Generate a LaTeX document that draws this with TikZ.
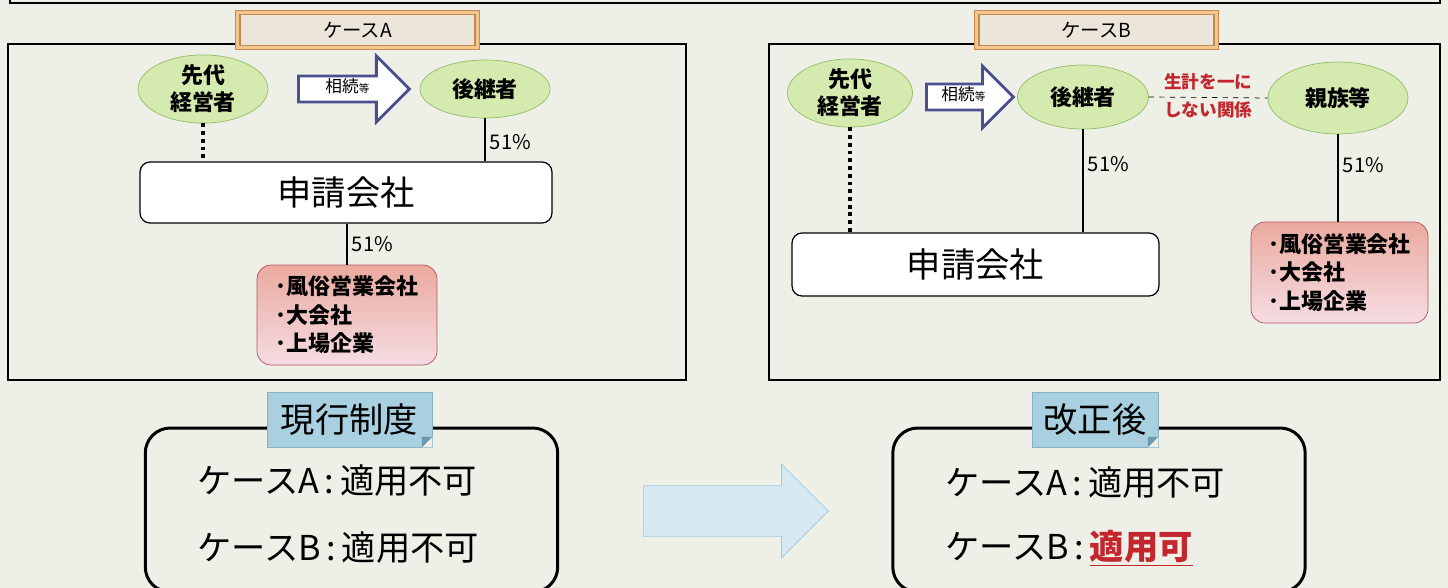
\documentclass[tikz,border=0pt]{standalone}
\usepackage{fontspec}
\setmainfont{Noto Sans CJK JP}
\usetikzlibrary{shapes.geometric,shapes.arrows,positioning,calc}
\definecolor{paper}{HTML}{EEF0E8}
\definecolor{ellfill}{HTML}{D5EAAE}
\definecolor{elldraw}{HTML}{92BE66}
\definecolor{inhdraw}{HTML}{4C4F8E}
\definecolor{tagfill}{HTML}{EBE5DA}
\definecolor{tagdraw}{HTML}{C8894C}
\definecolor{tagline}{HTML}{F2C690}
\definecolor{pinktop}{HTML}{EBAA9E}
\definecolor{pinkmid}{HTML}{E3929F}
\definecolor{pinkbot}{HTML}{F5DCE3}
\definecolor{pinkdraw}{HTML}{B4505A}
\definecolor{redtext}{HTML}{C4262E}
\definecolor{tabfill}{HTML}{A8D0E1}
\definecolor{tabdraw}{HTML}{82B3CA}
\definecolor{bigfill}{HTML}{D6E9F1}
\definecolor{bigdraw}{HTML}{A2CCE0}

\begin{document}
\begin{tikzpicture}[x=0.02cm, y=-0.02cm, font=\fontsize{12}{15}\selectfont,
    frame/.style={draw, line width=0.8pt},
    casetag/.style={draw=tagdraw, double=tagline, double distance=1.6pt, line width=0.9pt, fill=tagfill, minimum width=4.8cm, minimum height=0.7cm, font=\fontsize{11}{12}\selectfont},
    person/.style={ellipse, draw=elldraw, fill=ellfill, inner sep=0pt, minimum width=2.6cm, minimum height=1.2cm, align=center, font=\bfseries\fontsize{12.5}{15.5}\selectfont},
    inherit/.style={single arrow, draw=inhdraw, fill=white, line width=1.6pt, anchor=tail, inner xsep=2pt, inner ysep=0.1cm, text height=6pt, text depth=1.5pt, single arrow head extend=0.4cm, minimum width=0cm, font=\fontsize{9.5}{10}\selectfont},
    firm/.style={draw, fill=white, rounded corners=0.2cm, line width=0.7pt, font=\fontsize{19.5}{22}\selectfont},
    group/.style={draw=pinkdraw, rounded corners=0.28cm, top color=pinktop, middle color=pinkmid!70!pinkbot, bottom color=pinkbot, align=left, minimum width=3.6cm, minimum height=2cm, font=\bfseries\fontsize{12.5}{16.2}\selectfont},
    share/.style={line width=1.5pt},
    former/.style={line width=2pt, dash pattern=on 2.2pt off 2.2pt},
    pct/.style={right, inner sep=2pt, font=\fontsize{11.5}{13}\selectfont},
    redlbl/.style={text=redtext, inner sep=1pt, font=\bfseries\fontsize{10}{12}\selectfont},
    resbox/.style={draw, line width=1.7pt, rounded corners=0.5cm, minimum width=8.25cm, minimum height=3.28cm},
    tab/.style={draw=tabdraw, fill=tabfill, minimum height=1.1cm, font=\fontsize{19.5}{22}\selectfont},
    restext/.style={anchor=west, inner sep=0pt, font=\fontsize{19.5}{22}\selectfont}]
    \fill[paper] (0,0) rectangle (1448,588);
    \useasboundingbox (0,0) rectangle (1448,588);
    \clip (0,0) rectangle (1448,588);
    \draw[line width=0.8pt] (10,-5) -- (10,3) -- (1440,3) -- (1440,-5);
    \draw[frame] (8,44) rectangle (686,380);
    \draw[frame] (769,44) rectangle (1440,380);
    \node[casetag] (tagA) at (357.5,30) {ケースA};
    \node[casetag] (tagB) at (1096.5,30) {ケースB};

    \node[person] (prevA) at (203,89) {先代\\経営者};
    \node[inherit, minimum height=2.22cm] (inhA) at (297,89) {相続{\fontsize{6}{7}\selectfont 等}};
    \node[person, minimum height=1.16cm] (succA) at (485,89) {後継者};
    \node[firm, minimum width=8.24cm, minimum height=1.22cm] (appA) at (346,192.5) {申請会社};
    \node[group] (bigA) at (347,315) {･風俗営業会社\\･大会社\\･上場企業};
    \draw[former] (prevA.south) -- (prevA.south |- appA.north);
    \draw[share] (succA.south) -- node[pct, pos=0.55] {51\%} (succA.south |- appA.north);
    \draw[share] (bigA.north |- appA.south) -- node[pct] {51\%} (bigA.north);

    \node[person, minimum width=2.5cm, minimum height=1.16cm] (prevB) at (850,93) {先代\\経営者};
    \node[inherit, minimum height=1.74cm, single arrow head extend=0.36cm] (inhB) at (925,97) {相続{\fontsize{6}{7}\selectfont 等}};
    \node[person, minimum width=2.62cm, minimum height=1.28cm] (succB) at (1083,97) {後継者};
    \node[person, minimum width=2.8cm, minimum height=1.44cm] (relB) at (1338,98) {親族等};
    \node[firm, minimum width=7.34cm, minimum height=1.26cm] (appB) at (975.5,264.5) {申請会社};
    \node[group, minimum width=3.54cm, minimum height=2.02cm] (bigB) at (1339.5,272.5) {･風俗営業会社\\･大会社\\･上場企業};
    \draw[dashed, thin] (succB.east) -- node[redlbl, above=3pt] {生計を一に} node[redlbl, below=1pt] {しない関係} (relB.west);
    \draw[former] (prevB.south) -- (prevB.south |- appB.north);
    \draw[share] (succB.south) -- node[pct, pos=0.34] {51\%} (succB.south |- appB.north);
    \draw[share] (relB.south) -- node[pct, pos=0.35] {51\%} (relB.south |- bigB.north);

    \node[resbox] (nowbox) at (351.5,510) {};
    \node[resbox] (newbox) at (1099,510) {};
    \node[tab, minimum width=3.3cm] (nowtab) at (349.5,419.5) {現行制度};
    \node[tab, minimum width=2.52cm] (newtab) at (1095,419.5) {改正後};
    \foreach \t in {nowtab,newtab}{
        \fill[paper] ([xshift=-6pt]\t.south east) -- (\t.south east) -- ([yshift=6pt]\t.south east) -- cycle;
        \fill[tabdraw!85!black] ([xshift=-6pt]\t.south east) -- ([yshift=6pt]\t.south east) -- ([xshift=-6pt,yshift=6pt]\t.south east) -- cycle;}
    \node[restext] (nowA) at (197,481) {ケースA\,:\,適用不可};
    \node[restext] (nowB) at (197,548) {ケースB\,:\,適用不可};
    \node[restext] (newA) at (945,483) {ケースA\,:\,適用不可};
    \node[restext] (newB) at (945,548) {ケースB\,:\,\textcolor{redtext}{\bfseries\underline{適用可}}};

    \node[single arrow, draw=bigdraw, fill=bigfill, anchor=tail, inner sep=0.5cm, minimum width=0cm, minimum height=3.7cm, single arrow head extend=0.43cm] (change) at (643,511) {};
\end{tikzpicture}
\end{document}
